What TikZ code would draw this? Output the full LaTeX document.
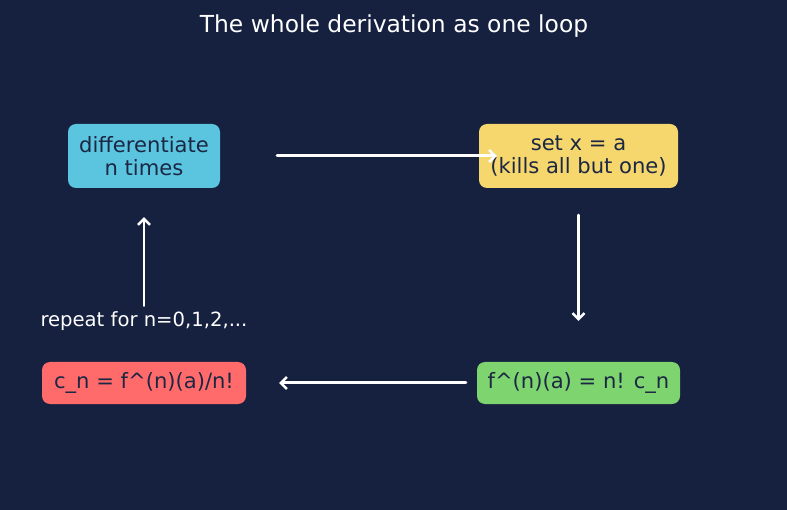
\documentclass[tikz,border=0pt]{standalone}
\usepackage{fontspec}
\setmainfont{DejaVu Sans}
\usepackage{xcolor}
\usetikzlibrary{positioning,arrows.meta}

\definecolor{bgnavy}{HTML}{16203F}
\definecolor{boxcyan}{HTML}{5BC5DF}
\definecolor{boxyellow}{HTML}{F5D76E}
\definecolor{boxgreen}{HTML}{7ED46F}
\definecolor{boxred}{HTML}{FF6B6B}
\definecolor{inkdark}{HTML}{1C2744}

\begin{document}
\begin{tikzpicture}[x=1pt,y=-1pt,
  stepbox/.style={rounded corners=8pt,text=inkdark,align=center,inner sep=0pt,
    font=\fontsize{21.1}{23}\selectfont},
  loopline/.style={draw=white,line width=3pt,line cap=round,
    -{Straight Barb[length=6pt,width=12pt,line width=2.5pt]}}]
\fill [bgnavy] (0,0) rectangle (787,510);
\useasboundingbox (0,0) rectangle (787,510);
\node [white,font=\fontsize{23.4}{27}\selectfont] (title) at (394,26) {The whole derivation as one loop};
% the four boxes
\node [stepbox,fill=boxcyan,minimum width=152pt,minimum height=64pt] (diff) at (144,156) {differentiate\\n times};
\node [stepbox,fill=boxyellow,minimum width=199pt,minimum height=64pt] (setx) at (578.5,156) {set x = a\\(kills all but one)};
\node [stepbox,fill=boxgreen,minimum width=203pt,minimum height=42pt] (nfac) at (578.5,383) {f\textasciicircum(n)(a) = n! c\_n};
\node [stepbox,fill=boxred,minimum width=204pt,minimum height=42pt] (coef) at (144,383) {c\_n = f\textasciicircum(n)(a)/n!};
\node [white,font=\fontsize{19.6}{22}\selectfont] (again) at (144,321) {repeat for n=0,1,2,...};
% arrows round the loop
\draw [loopline] ([xshift=57pt]diff.east) -- ([xshift=18pt]setx.west);
\draw [loopline] ([yshift=-27pt]setx.south) -- ([yshift=41pt]nfac.north);
\draw [loopline] ([xshift=-11pt]nfac.west) -- ([xshift=33pt]coef.east);
\draw [loopline,line width=2pt] ([yshift=2pt]again.north) -- ([yshift=-29pt]diff.south);
\end{tikzpicture}
\end{document}
